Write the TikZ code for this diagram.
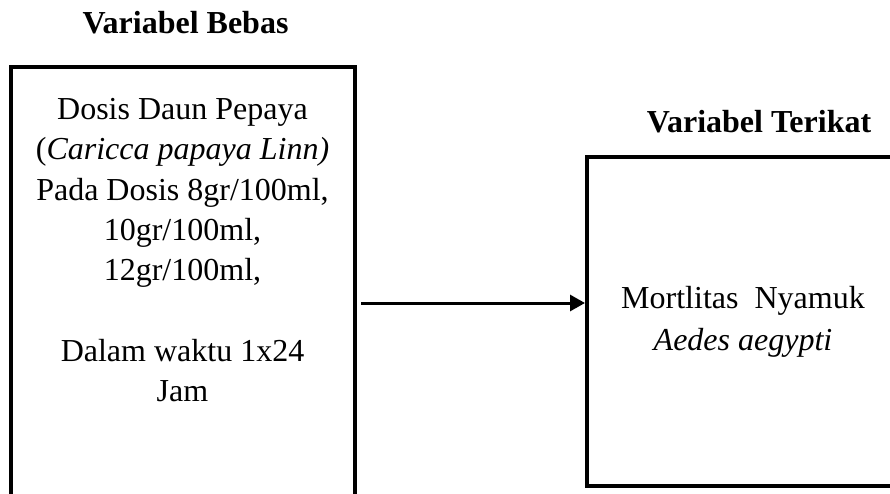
\documentclass[tikz,border=0pt]{standalone}
\usepackage{fontspec}
\setmainfont{Liberation Serif}
\usetikzlibrary{arrows.meta}
\tikzset{
  varbox/.style={draw=black, line width=4pt, rectangle, inner sep=0pt},
  bodytext/.style={font=\fontsize{32}{40.3}\selectfont, align=center, anchor=base, inner sep=0pt},
  headtext/.style={font=\fontsize{32}{40.3}\selectfont\bfseries, anchor=base, inner sep=0pt},
  flowarrow/.style={line width=3pt, -{Triangle[length=15pt,width=16pt]}}
}
\begin{document}
\begin{tikzpicture}[x=1pt,y=-1pt]
\useasboundingbox (0,0) rectangle (890,493);
\clip (0,0) rectangle (890,493);
\fill[white] (0,0) rectangle (890,493);
% boxes
\node[varbox, minimum width=343.5pt, minimum height=453pt] (bebas) at (182.75,293.5) {};
\node[varbox, minimum width=313pt, minimum height=328.5pt] (terikat) at (743.5,321.25) {};
% headings
\node[headtext] (hbebas) at (185.5,33) {Variabel Bebas};
\node[headtext] (hterikat) at (759,132) {Variabel Terikat};
% texts (base anchor = baseline of last line)
\node[bodytext] (tbebas) at (182.5,401.7) {Dosis Daun Pepaya\\(\textit{Caricca papaya Linn)}\\Pada Dosis 8gr/100ml,\\10gr/100ml,\\12gr/100ml,\\[40.3pt]Dalam waktu 1x24\\Jam};
\node[bodytext] (tterikat) at (743,350) {Mortlitas\ \ Nyamuk\\[1.7pt]\textit{Aedes aegypti}};
% arrow
\coordinate (astart) at (361,303);
\draw[flowarrow] (astart) -- (astart -| terikat.west);
\end{tikzpicture}
\end{document}
